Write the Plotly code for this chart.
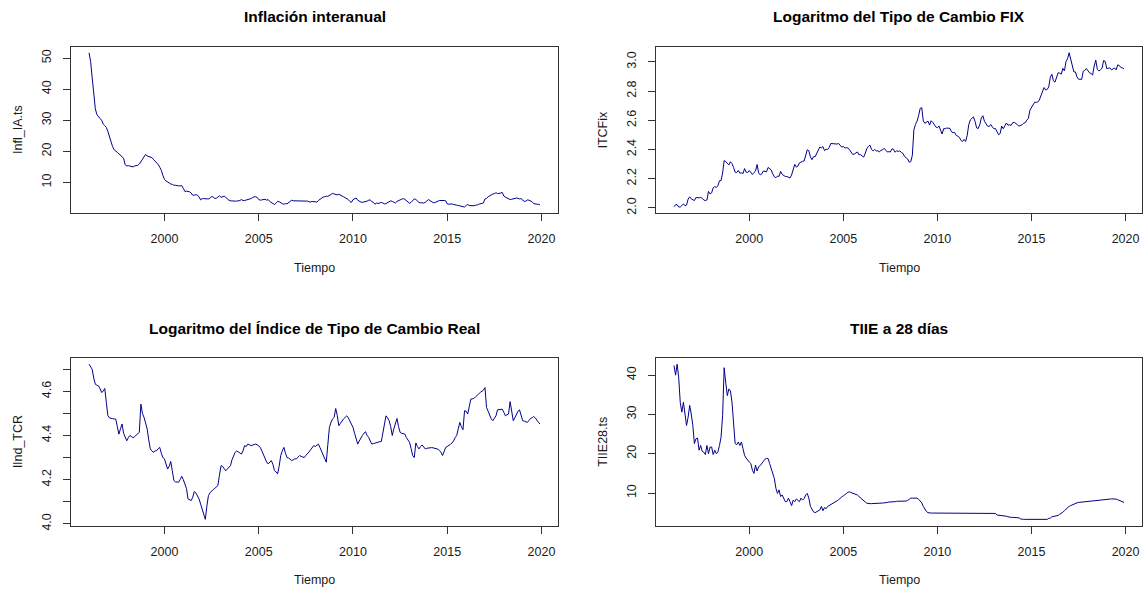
import plotly.graph_objects as go

START_YEAR = 1996
FREQ = 12

infl_ia = [
    51.7, 48.9, 43.7, 37.5, 33.7, 31.8, 31.0, 30.6, 30.0, 28.8, 28.3, 27.7,
    26.4, 24.5, 23.2, 21.5, 20.5, 20.2, 19.7, 19.2, 18.8, 18.4, 17.8, 15.7,
    15.3, 15.4, 15.3, 15.1, 15.0, 15.3, 15.4, 15.5, 15.9, 16.7, 17.4, 18.6,
    19.0, 18.5, 18.3, 18.2, 18.0, 17.4, 16.8, 16.5, 15.8, 14.9, 13.9, 12.3,
    11.0, 10.5, 10.1, 9.7, 9.5, 9.4, 9.1, 9.1, 8.9, 8.9, 8.9, 9.0,
    8.1, 7.1, 7.2, 7.1, 7.0, 6.6, 5.9, 5.9, 6.1, 5.9, 5.4, 4.4,
    4.8, 4.8, 4.7, 4.7, 4.7, 4.9, 5.5, 5.3, 4.9, 4.9, 5.4, 5.7,
    5.2, 5.5, 5.6, 5.2, 4.7, 4.3, 4.1, 4.0, 4.0, 4.0, 4.0, 4.0,
    4.2, 4.5, 4.2, 4.2, 4.3, 4.4, 4.5, 4.8, 5.1, 5.4, 5.4, 5.2,
    4.5, 4.3, 4.4, 4.6, 4.6, 4.3, 4.5, 3.9, 3.5, 3.1, 2.9, 3.3,
    3.9, 3.8, 3.4, 3.2, 3.0, 3.2, 3.1, 3.5, 4.1, 4.3, 4.1, 4.1,
    4.0, 4.1, 4.2, 4.0, 4.0, 4.0, 4.1, 4.0, 3.8, 3.7, 3.9, 3.8,
    3.7, 3.7, 4.2, 4.6, 4.9, 5.3, 5.4, 5.6, 5.5, 5.8, 6.2, 6.5,
    6.3, 6.2, 6.0, 6.2, 6.0, 5.7, 5.4, 5.1, 4.9, 4.5, 3.9, 3.6,
    4.5, 4.8, 5.0, 4.3, 3.9, 3.7, 3.6, 3.7, 3.7, 4.0, 4.3, 4.4,
    3.8, 3.6, 3.0, 3.4, 3.2, 3.3, 3.6, 3.4, 3.1, 3.2, 3.5, 3.8,
    4.1, 3.9, 3.7, 3.4, 3.9, 4.3, 4.4, 4.6, 4.8, 4.6, 4.2, 3.6,
    3.3, 3.6, 4.3, 4.7, 4.6, 4.1, 3.5, 3.5, 3.4, 3.4, 3.6, 4.0,
    4.5, 4.2, 3.8, 3.5, 3.5, 3.8, 4.1, 4.2, 4.2, 4.3, 4.2, 4.1,
    3.1, 3.0, 3.1, 3.1, 2.9, 2.9, 2.7, 2.6, 2.5, 2.5, 2.2, 2.1,
    2.6, 2.9, 2.6, 2.5, 2.6, 2.5, 2.7, 2.7, 3.0, 3.1, 3.3, 3.4,
    4.7, 4.9, 5.4, 5.8, 6.2, 6.3, 6.4, 6.7, 6.4, 6.4, 6.6, 6.8,
    5.6, 5.3, 5.0, 4.6, 4.5, 4.6, 4.8, 4.9, 5.0, 4.9, 4.7, 4.8,
    4.4, 3.9, 4.0, 4.4, 4.3, 4.0, 3.8, 3.2, 3.0, 3.0, 3.0, 2.8,
]

ltc_fix = [
    2.008, 2.022, 2.022, 2.006, 2.006, 2.020, 2.027, 2.015, 2.020, 2.060, 2.076, 2.062,
    2.055, 2.050, 2.071, 2.068, 2.069, 2.072, 2.066, 2.054, 2.050, 2.054, 2.113, 2.096,
    2.103, 2.138, 2.145, 2.141, 2.151, 2.186, 2.187, 2.239, 2.324, 2.317, 2.302, 2.294,
    2.316, 2.303, 2.276, 2.244, 2.242, 2.256, 2.238, 2.240, 2.235, 2.269, 2.244, 2.243,
    2.256, 2.244, 2.229, 2.242, 2.252, 2.297, 2.240, 2.226, 2.233, 2.253, 2.248, 2.247,
    2.277, 2.271, 2.260, 2.233, 2.213, 2.206, 2.218, 2.216, 2.250, 2.229, 2.222, 2.215,
    2.215, 2.209, 2.205, 2.226, 2.263, 2.298, 2.279, 2.286, 2.308, 2.315, 2.319, 2.321,
    2.365, 2.398, 2.391, 2.350, 2.330, 2.351, 2.350, 2.375, 2.391, 2.417, 2.411, 2.420,
    2.392, 2.401, 2.400, 2.414, 2.441, 2.440, 2.437, 2.434, 2.437, 2.441, 2.428, 2.416,
    2.421, 2.410, 2.412, 2.410, 2.397, 2.378, 2.366, 2.369, 2.379, 2.383, 2.363, 2.366,
    2.354, 2.348, 2.375, 2.406, 2.421, 2.430, 2.400, 2.390, 2.400, 2.390, 2.391, 2.383,
    2.395, 2.397, 2.408, 2.397, 2.383, 2.385, 2.383, 2.404, 2.402, 2.381, 2.392, 2.386,
    2.390, 2.380, 2.373, 2.353, 2.346, 2.335, 2.313, 2.316, 2.360, 2.535, 2.571, 2.593,
    2.631, 2.681, 2.686, 2.595, 2.579, 2.589, 2.594, 2.567, 2.597, 2.586, 2.571, 2.554,
    2.549, 2.561, 2.533, 2.506, 2.543, 2.542, 2.547, 2.543, 2.544, 2.521, 2.515, 2.517,
    2.496, 2.491, 2.483, 2.462, 2.454, 2.469, 2.455, 2.497, 2.570, 2.603, 2.616, 2.623,
    2.592, 2.548, 2.543, 2.569, 2.615, 2.631, 2.593, 2.580, 2.560, 2.557, 2.571, 2.555,
    2.542, 2.543, 2.524, 2.501, 2.509, 2.560, 2.542, 2.559, 2.581, 2.566, 2.569, 2.565,
    2.583, 2.586, 2.580, 2.570, 2.560, 2.563, 2.569, 2.580, 2.583, 2.601, 2.612, 2.669,
    2.686, 2.703, 2.723, 2.723, 2.725, 2.739, 2.768, 2.804, 2.824, 2.808, 2.811, 2.828,
    2.894, 2.915, 2.870, 2.861, 2.899, 2.926, 2.922, 2.916, 2.955, 2.938, 3.001, 3.021,
    3.062, 3.011, 2.959, 2.932, 2.931, 2.897, 2.881, 2.880, 2.880, 2.935, 2.941, 2.954,
    2.939, 2.925, 2.920, 2.910, 2.972, 3.012, 2.948, 2.937, 2.946, 2.956, 3.009, 3.003,
    2.953, 2.957, 2.959, 2.945, 2.952, 2.958, 2.945, 2.979, 2.975, 2.961, 2.959, 2.951,
]

lind_tcr = [
    4.723, 4.712, 4.700, 4.660, 4.632, 4.628, 4.625, 4.612, 4.595, 4.600, 4.613, 4.550,
    4.490, 4.480, 4.477, 4.476, 4.475, 4.474, 4.440, 4.406, 4.430, 4.452, 4.410, 4.390,
    4.376, 4.390, 4.400, 4.395, 4.390, 4.395, 4.400, 4.405, 4.414, 4.542, 4.500, 4.482,
    4.459, 4.430, 4.380, 4.339, 4.330, 4.324, 4.330, 4.331, 4.340, 4.346, 4.320, 4.300,
    4.294, 4.270, 4.248, 4.260, 4.282, 4.240, 4.196, 4.190, 4.188, 4.188, 4.200, 4.215,
    4.200, 4.181, 4.160, 4.113, 4.108, 4.105, 4.120, 4.146, 4.140, 4.125, 4.113, 4.090,
    4.068, 4.045, 4.020, 4.080, 4.128, 4.140, 4.150, 4.155, 4.160, 4.165, 4.173, 4.220,
    4.263, 4.260, 4.248, 4.240, 4.248, 4.255, 4.263, 4.290, 4.310, 4.324, 4.330, 4.324,
    4.318, 4.316, 4.330, 4.354, 4.350, 4.361, 4.358, 4.354, 4.356, 4.360, 4.361, 4.358,
    4.352, 4.346, 4.330, 4.310, 4.294, 4.280, 4.271, 4.280, 4.286, 4.270, 4.241, 4.235,
    4.226, 4.260, 4.309, 4.330, 4.346, 4.320, 4.300, 4.298, 4.290, 4.286, 4.290, 4.294,
    4.294, 4.300, 4.309, 4.305, 4.302, 4.300, 4.310, 4.316, 4.325, 4.335, 4.345, 4.354,
    4.350, 4.356, 4.361, 4.345, 4.330, 4.316, 4.300, 4.279, 4.360, 4.437, 4.460, 4.475,
    4.482, 4.522, 4.490, 4.444, 4.455, 4.467, 4.475, 4.482, 4.489, 4.480, 4.467, 4.450,
    4.437, 4.410, 4.380, 4.361, 4.375, 4.391, 4.400, 4.410, 4.417, 4.400, 4.391, 4.375,
    4.361, 4.363, 4.366, 4.366, 4.369, 4.372, 4.372, 4.414, 4.460, 4.489, 4.480, 4.467,
    4.440, 4.400, 4.430, 4.460, 4.477, 4.440, 4.414, 4.410, 4.408, 4.406, 4.390, 4.380,
    4.369, 4.340, 4.309, 4.300, 4.366, 4.350, 4.339, 4.350, 4.357, 4.348, 4.339, 4.342,
    4.344, 4.346, 4.345, 4.344, 4.343, 4.342, 4.338, 4.332, 4.324, 4.309, 4.330, 4.346,
    4.350, 4.354, 4.360, 4.366, 4.375, 4.390, 4.400, 4.430, 4.459, 4.440, 4.426, 4.512,
    4.510, 4.497, 4.530, 4.565, 4.566, 4.568, 4.575, 4.580, 4.588, 4.595, 4.600, 4.605,
    4.617, 4.527, 4.510, 4.489, 4.475, 4.467, 4.480, 4.489, 4.516, 4.518, 4.519, 4.519,
    4.505, 4.489, 4.494, 4.497, 4.553, 4.500, 4.467, 4.480, 4.497, 4.510, 4.516, 4.490,
    4.467, 4.465, 4.463, 4.459, 4.468, 4.477, 4.480, 4.486, 4.480, 4.467, 4.460, 4.452,
]

tiie28 = [
    42.5, 40.0, 42.8, 39.4, 33.0, 30.6, 33.1, 29.7, 27.2, 29.3, 32.3, 30.1,
    27.2, 22.6, 23.8, 24.0, 20.9, 22.1, 20.6, 20.4, 19.8, 22.1, 20.0, 21.7,
    21.7, 19.8, 20.9, 20.0, 20.5, 22.1, 24.2, 29.7, 41.9, 38.1, 34.8, 36.5,
    36.0, 33.1, 28.0, 22.6, 22.3, 23.0, 22.1, 23.0, 21.3, 19.6, 18.9, 18.3,
    17.9, 17.5, 15.8, 15.0, 17.1, 15.6, 16.7, 17.0, 17.5, 18.3, 18.6, 18.8,
    18.8, 17.5, 16.2, 15.0, 13.7, 11.2, 9.9, 10.8, 9.1, 9.5, 8.7, 7.8,
    7.8, 8.7, 7.8, 6.8, 8.2, 7.8, 8.5, 8.1, 7.8, 8.7, 8.2, 8.6,
    9.5, 9.9, 8.7, 6.6, 5.7, 5.2, 5.0, 5.2, 5.3, 5.7, 6.6, 5.5,
    6.3, 6.0, 6.6, 6.8, 7.1, 7.3, 7.4, 7.6, 8.0, 8.3, 8.8, 9.0,
    9.3, 9.5, 9.9, 10.2, 10.3, 10.1, 10.0, 9.9, 9.7, 9.5, 9.1, 8.7,
    8.4, 8.0, 7.7, 7.4, 7.3, 7.3, 7.3, 7.3, 7.3, 7.3, 7.3, 7.35,
    7.4, 7.45, 7.5, 7.5, 7.6, 7.7, 7.7, 7.75, 7.75, 7.8, 7.9, 7.9,
    7.9, 7.9, 7.9, 7.95, 7.95, 8.1, 8.5, 8.7, 8.7, 8.7, 8.7, 8.7,
    8.4, 7.9, 7.5, 6.6, 5.8, 5.3, 5.0, 4.9, 4.9, 4.9, 4.9, 4.9,
    4.9, 4.9, 4.9, 4.9, 4.9, 4.9, 4.9, 4.9, 4.9, 4.9, 4.87, 4.87,
    4.85, 4.8, 4.8, 4.8, 4.8, 4.8, 4.8, 4.8, 4.8, 4.8, 4.8, 4.8,
    4.8, 4.8, 4.8, 4.8, 4.8, 4.8, 4.8, 4.8, 4.8, 4.8, 4.8, 4.8,
    4.8, 4.8, 4.4, 4.35, 4.3, 4.3, 4.3, 4.3, 4.1, 3.95, 3.8, 3.8,
    3.8, 3.8, 3.8, 3.8, 3.7, 3.4, 3.3, 3.3, 3.3, 3.3, 3.3, 3.3,
    3.3, 3.3, 3.3, 3.3, 3.3, 3.3, 3.3, 3.3, 3.3, 3.3, 3.3, 3.55,
    3.6, 3.95, 4.05, 4.1, 4.2, 4.3, 4.6, 4.8, 5.1, 5.5, 5.9, 6.3,
    6.6, 6.8, 7.0, 7.3, 7.4, 7.5, 7.6, 7.65, 7.65, 7.7, 7.7, 7.7,
    7.8, 7.85, 7.9, 7.9, 8.0, 8.1, 8.1, 8.15, 8.2, 8.3, 8.4, 8.45,
    8.5, 8.5, 8.5, 8.5, 8.5, 8.5, 8.45, 8.3, 8.1, 8.0, 7.8, 7.6,
]

titles = ["Inflación interanual", "Logaritmo del Tipo de Cambio FIX",
          "Logaritmo del Índice de Tipo de Cambio Real", "TIIE a 28 días"]
ylabels = ["Infl_IA.ts", "lTCFix", "lInd_TCR", "TIIE28.ts"]
xlabel = "Tiempo"
x_ticks = [2000, 2005, 2010, 2015, 2020]
y_ticks = [
    [10, 20, 30, 40, 50],
    [2.0, 2.2, 2.4, 2.6, 2.8, 3.0],
    [4.0, 4.1, 4.2, 4.3, 4.4, 4.5, 4.6, 4.7],
    [10, 20, 30, 40],
]
y_ticktext = [
    ["10", "20", "30", "40", "50"],
    ["2.0", "2.2", "2.4", "2.6", "2.8", "3.0"],
    ["4.0", "", "4.2", "", "4.4", "", "4.6", ""],
    ["10", "20", "30", "40"],
]

series = [infl_ia, ltc_fix, lind_tcr, tiie28]
t = [START_YEAR + i / FREQ for i in range(len(infl_ia))]

W, H = 1147, 596
FONT = "Liberation Sans, Arial, sans-serif"
LINE_COL = "#00008B"
AX_COL = "#333333"
TXT_COL = "#1a1a1a"

# plot boxes in pixels: (left, right, top, bottom)
boxes = [(71, 558, 47, 215), (656, 1142, 47, 215),
         (71, 558, 361, 530), (656, 1142, 361, 530)]


def rpad(lo, hi):
    d = (hi - lo) * 0.04
    return [lo - d, hi + d]


fig = go.Figure()
layout = dict(width=W, height=H, margin=dict(l=0, r=0, t=0, b=0),
              paper_bgcolor="white", plot_bgcolor="white",
              showlegend=False, font=dict(family=FONT, color=TXT_COL))
annotations = []
xr = rpad(t[0], t[-1])
for k, (vals, box) in enumerate(zip(series, boxes)):
    l, r, top, bot = box
    sfx = "" if k == 0 else str(k + 1)
    fig.add_trace(go.Scatter(x=t, y=vals, mode="lines",
                             line=dict(color=LINE_COL, width=1),
                             xaxis="x" + sfx, yaxis="y" + sfx,
                             hoverinfo="skip"))
    common = dict(showgrid=False, zeroline=False, showline=True,
                  linecolor=AX_COL, linewidth=1, mirror=True,
                  ticks="outside", ticklen=7, tickcolor=AX_COL, tickwidth=1,
                  tickfont=dict(family=FONT, size=12.5, color=TXT_COL))
    layout["xaxis" + sfx] = dict(common, domain=[l / W, r / W],
                                 anchor="y" + sfx, range=xr,
                                 tickmode="array", tickvals=x_ticks,
                                 ticktext=[str(v) for v in x_ticks],
                                 ticklabelstandoff=7)
    layout["yaxis" + sfx] = dict(common, domain=[(H - bot) / H, (H - top) / H],
                                 anchor="x" + sfx,
                                 range=rpad(min(vals), max(vals)),
                                 tickmode="array", tickvals=y_ticks[k],
                                 ticktext=y_ticktext[k], tickangle=-90,
                                 ticklabelstandoff=7)
    cx = (l + r) / 2 / W
    annotations.append(dict(text="<b>" + titles[k] + "</b>", xref="paper",
                            yref="paper", x=cx, y=(H - (top - 30)) / H,
                            showarrow=False, xanchor="center", yanchor="middle",
                            font=dict(family=FONT, size=15.5, color="black")))
    annotations.append(dict(text=xlabel, xref="paper", yref="paper", x=cx,
                            y=(H - (bot + 55)) / H, showarrow=False,
                            xanchor="center", yanchor="middle",
                            font=dict(family=FONT, size=12.5, color=TXT_COL)))
    annotations.append(dict(text=ylabels[k], xref="paper", yref="paper",
                            x=(l - 53) / W, y=(H - (top + bot) / 2) / H,
                            textangle=-90, showarrow=False,
                            xanchor="center", yanchor="middle",
                            font=dict(family=FONT, size=12.5, color=TXT_COL)))

layout["annotations"] = annotations
fig.update_layout(**layout)
fig.write_html("out.html")
